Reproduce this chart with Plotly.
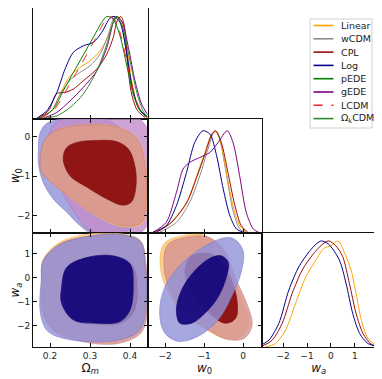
import plotly.graph_objects as go

# the page body adds an 8 px margin, so the figure is drawn 8 px smaller
# and every reference pixel position is shifted by OFF
OFF = 8
W, H = 382 - OFF, 379 - OFF
FONT = "DejaVu Sans"

# ---------------------------------------------------------------- data
MODELS = ["Linear", "wCDM", "CPL", "Log", "pEDE", "gEDE", "LCDM", "Ω<sub>k</sub>CDM"]
LINE_COLORS = ["#ffa500", "#8c8c8c", "#9b0d0d", "#00008b", "#008000", "#800080", "#ff2020", "#2e8b2e"]
LINE_DASH = ["solid", "solid", "solid", "solid", "solid", "solid", "dash", "solid"]

OM_TICKS = [0.2, 0.3, 0.4]
W0_TICKS = [-2, -1, 0]
WA_TICKS = [-2, -1, 0, 1]

# 1D marginal of Omega_m (normalised to peak)
om_linear_x = [0.175, 0.204, 0.225, 0.25, 0.275, 0.3, 0.325, 0.346, 0.36, 0.37, 0.38, 0.392, 0.404, 0.421, 0.442]
om_linear_p = [0.003, 0.075, 0.239, 0.418, 0.5, 0.565, 0.663, 0.81, 0.958, 1.0, 0.941, 0.696, 0.369, 0.108, 0.01]
om_wcdm_x = [0.175, 0.204, 0.225, 0.25, 0.275, 0.3, 0.325, 0.346, 0.358, 0.365, 0.377, 0.392, 0.404, 0.421, 0.442]
om_wcdm_p = [0.003, 0.075, 0.232, 0.376, 0.451, 0.516, 0.631, 0.827, 0.974, 1.0, 0.941, 0.631, 0.337, 0.108, 0.01]
om_cpl_x = [0.171, 0.196, 0.217, 0.2375, 0.258, 0.283, 0.317, 0.342, 0.358, 0.368, 0.377, 0.385, 0.394, 0.404, 0.418, 0.4375]
om_cpl_p = [0.003, 0.075, 0.245, 0.255, 0.288, 0.369, 0.484, 0.631, 0.794, 0.958, 1.0, 0.925, 0.533, 0.239, 0.082, 0.01]
om_log_x = [0.167, 0.192, 0.217, 0.2375, 0.258, 0.283, 0.308, 0.329, 0.35, 0.36, 0.375, 0.392, 0.404, 0.421, 0.442]
om_log_p = [0.003, 0.075, 0.255, 0.484, 0.647, 0.712, 0.745, 0.843, 0.984, 1.0, 0.941, 0.631, 0.337, 0.108, 0.016]
om_pede_x = [0.175, 0.208, 0.233, 0.258, 0.283, 0.308, 0.329, 0.342, 0.358, 0.375, 0.392, 0.408, 0.425, 0.442]
om_pede_p = [0.003, 0.092, 0.271, 0.448, 0.621, 0.794, 0.941, 1.0, 0.974, 0.81, 0.516, 0.239, 0.075, 0.01]
om_gede_x = [0.183, 0.217, 0.25, 0.283, 0.317, 0.342, 0.358, 0.365, 0.379, 0.396, 0.4125, 0.429, 0.446]
om_gede_p = [0.003, 0.059, 0.173, 0.304, 0.467, 0.696, 0.941, 1.0, 0.958, 0.696, 0.369, 0.141, 0.026]
om_lcdm_x = [0.175, 0.21, 0.238, 0.263, 0.288, 0.313, 0.334, 0.347, 0.362, 0.378, 0.395, 0.412, 0.428, 0.444]
om_lcdm_p = [0.003, 0.085, 0.26, 0.43, 0.6, 0.78, 0.935, 1.0, 0.97, 0.8, 0.5, 0.222, 0.069, 0.01]
om_okcdm_x = [0.183, 0.217, 0.25, 0.283, 0.317, 0.342, 0.358, 0.368, 0.383, 0.4, 0.417, 0.433, 0.446]
om_okcdm_p = [0.003, 0.026, 0.108, 0.239, 0.467, 0.729, 0.941, 1.0, 0.876, 0.565, 0.255, 0.069, 0.01]

# 1D marginal of w0
w0_linear_x = [-2.22, -1.85, -1.45, -1.19, -0.98, -0.81, -0.72, -0.60, -0.43, -0.26, -0.09, 0.08]
w0_linear_p = [0.007, 0.104, 0.3, 0.56, 0.788, 0.967, 1.0, 0.919, 0.593, 0.267, 0.072, 0.007]
w0_wcdm_x = [-2.14, -1.71, -1.37, -1.11, -0.90, -0.75, -0.67, -0.56, -0.41, -0.26, -0.09, 0.08]
w0_wcdm_p = [0.007, 0.104, 0.3, 0.56, 0.821, 0.984, 0.99, 0.854, 0.528, 0.218, 0.039, 0.0]
w0_cpl_x = [-2.22, -1.85, -1.45, -1.19, -0.98, -0.81, -0.71, -0.56, -0.39, -0.22, -0.05, 0.12]
w0_cpl_p = [0.007, 0.098, 0.293, 0.544, 0.769, 0.958, 1.0, 0.886, 0.593, 0.283, 0.072, 0.007]
w0_log_x = [-2.31, -1.97, -1.71, -1.45, -1.24, -1.03, -0.85, -0.68, -0.51, -0.34, -0.17, 0.0]
w0_log_p = [0.007, 0.072, 0.267, 0.593, 0.886, 1.0, 0.967, 0.756, 0.43, 0.169, 0.039, 0.007]
w0_gede_x = [-2.31, -1.97, -1.71, -1.54, -1.37, -1.11, -0.85, -0.64, -0.41, -0.26, -0.09, 0.08, 0.26, 0.43]
w0_gede_p = [0.007, 0.104, 0.397, 0.625, 0.691, 0.739, 0.788, 0.886, 1.0, 0.886, 0.56, 0.202, 0.039, 0.0]

# 1D marginal of wa
wa_linear_x = [-2.74, -2.32, -1.90, -1.48, -1.05, -0.63, -0.3, 0.0, 0.3, 0.63, 0.84, 1.05, 1.27, 1.55, 1.9]
wa_linear_p = [0.0, 0.032, 0.158, 0.41, 0.662, 0.82, 0.93, 0.955, 1.0, 0.852, 0.725, 0.505, 0.252, 0.079, 0.01]
wa_cpl_x = [-2.88, -2.46, -2.04, -1.62, -1.20, -0.77, -0.4, -0.1, 0.2, 0.49, 0.77, 1.05, 1.34, 1.69, 1.97]
wa_cpl_p = [0.007, 0.063, 0.221, 0.505, 0.726, 0.868, 0.96, 1.0, 0.955, 0.852, 0.599, 0.315, 0.126, 0.025, 0.007]
wa_log_x = [-3.02, -2.60, -2.18, -1.76, -1.34, -0.91, -0.6, -0.4, -0.1, 0.35, 0.63, 0.91, 1.2, 1.55, 1.9]
wa_log_p = [0.007, 0.063, 0.221, 0.536, 0.757, 0.899, 0.975, 1.0, 0.97, 0.82, 0.599, 0.315, 0.126, 0.032, 0.007]

# 2D contours: Omega_m vs w0
omw0_log2_om = [0.171, 0.175, 0.19, 0.217, 0.275, 0.358, 0.417, 0.433, 0.4, 0.308, 0.275, 0.242, 0.208, 0.183, 0.172]
omw0_log2_w0 = [-0.3, 0.1, 0.33, 0.44, 0.5, 0.37, -0.31, -1.58, -2.35, -2.47, -2.26, -1.92, -1.58, -1.16, -0.75]
omw0_gede2_om = [0.25, 0.208, 0.192, 0.208, 0.233, 0.267, 0.3, 0.367, 0.433, 0.458, 0.458, 0.425, 0.358, 0.292]
omw0_gede2_w0 = [0.54, 0.29, -0.31, -0.9, -1.45, -2.01, -2.39, -2.52, -2.39, -1.58, -0.14, 0.46, 0.8, 0.8]
omw0_lin2_om = [0.178, 0.19, 0.226, 0.30, 0.367, 0.418, 0.439, 0.442, 0.431, 0.383, 0.316, 0.258, 0.209, 0.181]
omw0_lin2_w0 = [-0.56, -0.05, 0.21, 0.32, 0.26, -0.04, -0.73, -1.6, -2.21, -2.29, -2.02, -1.6, -1.21, -0.9]
omw0_cpl2_om = [0.175, 0.1875, 0.225, 0.30, 0.367, 0.417, 0.4375, 0.44, 0.429, 0.383, 0.317, 0.258, 0.208, 0.179]
omw0_cpl2_w0 = [-0.56, -0.05, 0.20, 0.31, 0.25, -0.05, -0.73, -1.58, -2.18, -2.26, -2.0, -1.58, -1.2, -0.9]
omw0_cpl1_om = [0.233, 0.242, 0.267, 0.317, 0.367, 0.396, 0.412, 0.415, 0.404, 0.383, 0.342, 0.292, 0.25]
omw0_cpl1_w0 = [-0.56, -0.27, -0.14, -0.09, -0.12, -0.31, -0.73, -1.24, -1.65, -1.74, -1.58, -1.28, -0.99]

# 2D contours: Omega_m vs wa
omwa_lin2_om = [0.179, 0.183, 0.225, 0.30, 0.375, 0.425, 0.4375, 0.442, 0.425, 0.367, 0.275, 0.208, 0.183]
omwa_lin2_wa = [-0.11, 0.78, 1.50, 1.85, 1.86, 1.58, 0.58, -0.80, -2.2, -2.66, -2.59, -2.18, -1.49]
omwa_cpl2_om = [0.179, 0.183, 0.225, 0.30, 0.375, 0.427, 0.44, 0.445, 0.43, 0.37, 0.275, 0.208, 0.183]
omwa_cpl2_wa = [-0.11, 0.72, 1.42, 1.75, 1.80, 1.52, 0.58, -0.8, -2.25, -2.75, -2.65, -2.2, -1.5]
omwa_cpl1_om = [0.235, 0.25, 0.30, 0.36, 0.405, 0.418, 0.41, 0.38, 0.32, 0.26, 0.235]
omwa_cpl1_wa = [-0.3, 0.5, 0.88, 0.92, 0.55, -0.4, -1.4, -1.88, -1.95, -1.75, -1.0]
omwa_log2_om = [0.178, 0.183, 0.225, 0.30, 0.375, 0.425, 0.4375, 0.442, 0.425, 0.367, 0.26, 0.195, 0.176]
omwa_log2_wa = [-0.11, 0.71, 1.40, 1.75, 1.82, 1.54, 0.58, -0.80, -2.18, -2.62, -2.62, -2.25, -1.49]
omwa_log1_om = [0.229, 0.242, 0.292, 0.358, 0.40, 0.408, 0.40, 0.375, 0.317, 0.258, 0.229]
omwa_log1_wa = [-0.39, 0.44, 0.85, 0.92, 0.58, -0.39, -1.35, -1.83, -1.90, -1.76, -1.07]

# 2D contours: w0 vs wa
w0wa_lin2_w0 = [-2.02, -1.5, -0.98, -0.55, -0.28, 0.0, 0.15, -0.05, -0.45, -0.97, -1.57, -1.97, -2.13]
w0wa_lin2_wa = [1.45, 1.78, 1.78, 1.2, 0.1, -1.0, -1.9, -2.45, -2.55, -2.15, -1.45, -0.45, 0.6]
w0wa_cpl2_w0 = [-1.92, -1.41, -0.90, -0.47, -0.21, 0.09, 0.23, 0.04, -0.38, -0.90, -1.49, -1.88, -2.03]
w0wa_cpl2_wa = [1.40, 1.71, 1.71, 1.13, 0.03, -1.07, -1.97, -2.52, -2.59, -2.18, -1.49, -0.52, 0.58]
w0wa_cpl1_w0 = [-1.49, -1.32, -0.81, -0.38, -0.17, -0.19, -0.47, -0.90, -1.32]
w0wa_cpl1_wa = [0.30, 0.92, 0.99, 0.17, -0.80, -1.69, -1.90, -1.42, -0.59]
w0wa_log2_w0 = [-0.47, -0.21, 0.0, -0.04, -0.30, -0.64, -1.15, -1.67, -2.01, -2.14, -2.01, -1.58, -0.98]
w0wa_log2_wa = [1.68, 1.61, 1.13, 0.30, -0.80, -1.76, -2.45, -2.66, -2.31, -1.49, -0.39, 0.58, 1.33]
w0wa_log1_w0 = [-0.55, -0.38, -0.43, -0.64, -0.98, -1.32, -1.62, -1.71, -1.58, -1.24, -0.81]
w0wa_log1_wa = [0.92, 0.64, 0.03, -0.80, -1.49, -1.90, -1.90, -1.35, -0.52, 0.30, 0.85]

# ---------------------------------------------------------------- styles
FILL = {
    "lin2": ("rgba(250,196,110,0.8)", "rgba(245,175,90,0.8)"),
    "cpl2": ("rgba(214,146,146,0.8)", "rgba(196,118,112,0.9)"),
    "cpl1": ("rgba(138,12,12,0.93)", "rgba(120,10,10,1)"),
    "log2": ("rgba(145,145,216,0.8)", "rgba(120,120,200,0.9)"),
    "log1": ("rgba(18,4,122,0.92)", "rgba(10,0,110,1)"),
    "gede2": ("rgba(196,140,203,0.8)", "rgba(170,110,180,0.9)"),
}

OM_RANGE = [0.1575, 0.4437]
W0_RANGE = [-2.45, 0.47]
WA_RANGE = [-2.9, 1.88]

# panel edges in reference pixels (top row starts at the page margin)
COLS = [(33, 147.5), (147.5, 261.5), (261.5, 376)]
ROWS = [(8, 118.5), (118.5, 233), (233, 347)]


def px(x):
    return (x - OFF) / W


def py(y):
    return min(1.0, 1 - (y - OFF) / H)


def xdom(c):
    return [px(COLS[c][0]), px(COLS[c][1])]


def ydom(r):
    return [py(ROWS[r][1]), py(ROWS[r][0])]


fig = go.Figure()


def add_curve(x, y, color, ax, dash="solid", name=None):
    fig.add_trace(go.Scatter(
        x=x, y=y, mode="lines", name=name,
        line=dict(color=color, width=1.0, dash=dash, shape="spline", smoothing=0.8),
        xaxis="x" + ax, yaxis="y" + ax, showlegend=False, hoverinfo="skip"))


def add_fill(x, y, key, ax):
    fill, edge = FILL[key]
    fig.add_trace(go.Scatter(
        x=x + x[:1], y=y + y[:1], mode="lines", fill="toself", fillcolor=fill,
        line=dict(color=edge, width=0.6, shape="spline", smoothing=1.0),
        xaxis="x" + ax, yaxis="y" + ax, showlegend=False, hoverinfo="skip"))


# Omega_m marginal (panel 1)
om_curves = [
    (om_linear_x, om_linear_p), (om_wcdm_x, om_wcdm_p), (om_cpl_x, om_cpl_p),
    (om_log_x, om_log_p), (om_pede_x, om_pede_p), (om_gede_x, om_gede_p),
    (om_lcdm_x, om_lcdm_p), (om_okcdm_x, om_okcdm_p),
]
for (x, p), col, dash, name in zip(om_curves, LINE_COLORS, LINE_DASH, MODELS):
    add_curve(x, p, col, "", dash, name)

# Omega_m vs w0 (panel 2)
add_fill(omw0_log2_om, omw0_log2_w0, "log2", "2")
add_fill(omw0_gede2_om, omw0_gede2_w0, "gede2", "2")
add_fill(omw0_lin2_om, omw0_lin2_w0, "lin2", "2")
add_fill(omw0_cpl2_om, omw0_cpl2_w0, "cpl2", "2")
add_fill(omw0_cpl1_om, omw0_cpl1_w0, "cpl1", "2")

# w0 marginal (panel 3)
add_curve(w0_wcdm_x, w0_wcdm_p, LINE_COLORS[1], "3")
add_curve(w0_linear_x, w0_linear_p, LINE_COLORS[0], "3")
add_curve(w0_cpl_x, w0_cpl_p, LINE_COLORS[2], "3")
add_curve(w0_log_x, w0_log_p, LINE_COLORS[3], "3")
add_curve(w0_gede_x, w0_gede_p, LINE_COLORS[5], "3")

# Omega_m vs wa (panel 4)
add_fill(omwa_lin2_om, omwa_lin2_wa, "lin2", "4")
add_fill(omwa_cpl2_om, omwa_cpl2_wa, "cpl2", "4")
add_fill(omwa_cpl1_om, omwa_cpl1_wa, "cpl1", "4")
add_fill(omwa_log2_om, omwa_log2_wa, "log2", "4")
add_fill(omwa_log1_om, omwa_log1_wa, "log1", "4")

# w0 vs wa (panel 5)
add_fill(w0wa_lin2_w0, w0wa_lin2_wa, "lin2", "5")
add_fill(w0wa_cpl2_w0, w0wa_cpl2_wa, "cpl2", "5")
add_fill(w0wa_cpl1_w0, w0wa_cpl1_wa, "cpl1", "5")
add_fill(w0wa_log2_w0, w0wa_log2_wa, "log2", "5")
add_fill(w0wa_log1_w0, w0wa_log1_wa, "log1", "5")

# wa marginal (panel 6)
add_curve(wa_linear_x, wa_linear_p, LINE_COLORS[0], "6")
add_curve(wa_cpl_x, wa_cpl_p, LINE_COLORS[2], "6")
add_curve(wa_log_x, wa_log_p, LINE_COLORS[3], "6")


def tick_text(vals):
    return [f"{v:g}".replace("-", "\u2212") for v in vals]


def axis(rng, dom, anchor, tickvals=None, labels=False, title=None, diag_y=False):
    a = dict(range=rng, domain=dom, anchor=anchor, showline=True, linecolor="#111",
             linewidth=1, showgrid=False, zeroline=False, automargin=False,
             tickfont=dict(family=FONT, size=9, color="#222"))
    if diag_y:
        a.update(mirror=True, ticks="", showticklabels=False)
    else:
        a.update(mirror="ticks", ticks="inside", ticklen=4, tickwidth=1, tickcolor="#111",
                 tickvals=tickvals, ticktext=tick_text(tickvals), showticklabels=labels)
    if title:
        a["title"] = dict(text=title, font=dict(family=FONT, size=12, color="#111"), standoff=3)
    return a


OM_T = "Ω<sub><i>m</i></sub>"
W0_T = "<i>w</i><sub>0</sub>"
WA_T = "<i>w</i><sub><i>a</i></sub>"

layout_axes = dict(
    xaxis=axis(OM_RANGE, xdom(0), "y", OM_TICKS),
    yaxis=axis([0, 1.083], ydom(0), "x", diag_y=True),
    xaxis2=axis(OM_RANGE, xdom(0), "y2", OM_TICKS),
    yaxis2=axis(W0_RANGE, ydom(1), "x2", W0_TICKS, labels=True, title=W0_T),
    xaxis3=axis(W0_RANGE, xdom(1), "y3", W0_TICKS),
    yaxis3=axis([0, 1.12], ydom(1), "x3", diag_y=True),
    xaxis4=axis(OM_RANGE, xdom(0), "y4", OM_TICKS, labels=True, title=OM_T),
    yaxis4=axis(WA_RANGE, ydom(2), "x4", WA_TICKS, labels=True, title=WA_T),
    xaxis5=axis(W0_RANGE, xdom(1), "y5", W0_TICKS, labels=True, title=W0_T),
    yaxis5=axis(WA_RANGE, ydom(2), "x5", WA_TICKS),
    xaxis6=axis(WA_RANGE, xdom(2), "y6", WA_TICKS, labels=True, title=WA_T),
    yaxis6=axis([0, 1.075], ydom(2), "x6", diag_y=True),
)
# diagonal panels: ticks only on the bottom edge
for k in ("xaxis", "xaxis3", "xaxis6"):
    layout_axes[k]["mirror"] = True

# hand-drawn legend box (matplotlib style, compact rows)
LEG_X0, LEG_X1, LEG_Y0, LEG_Y1 = 310, 372, 19, 128
ROW0, ROW_STEP = 25.5, 13.3
shapes = [dict(type="rect", xref="paper", yref="paper",
               x0=px(LEG_X0), x1=px(LEG_X1), y0=py(LEG_Y1), y1=py(LEG_Y0),
               line=dict(color="#d0d0d0", width=1), fillcolor="white", layer="above")]
annotations = []
for i, (name, col, dash) in enumerate(zip(MODELS, LINE_COLORS, LINE_DASH)):
    yy = py(ROW0 + i * ROW_STEP)
    shapes.append(dict(type="line", xref="paper", yref="paper", x0=px(313.5), x1=px(333.5),
                       y0=yy, y1=yy, line=dict(color=col, width=1.6, dash=dash), layer="above"))
    annotations.append(dict(text=name, xref="paper", yref="paper", x=px(339), y=yy,
                            xanchor="left", yanchor="middle", showarrow=False,
                            font=dict(family=FONT, size=9.5, color="#222")))

fig.update_layout(
    width=W, height=H, margin=dict(l=0, r=0, t=0, b=0),
    paper_bgcolor="white", plot_bgcolor="white",
    font=dict(family=FONT, size=10, color="#222"),
    showlegend=False, shapes=shapes, annotations=annotations,
    **layout_axes,
)

fig.write_html("out.html")
